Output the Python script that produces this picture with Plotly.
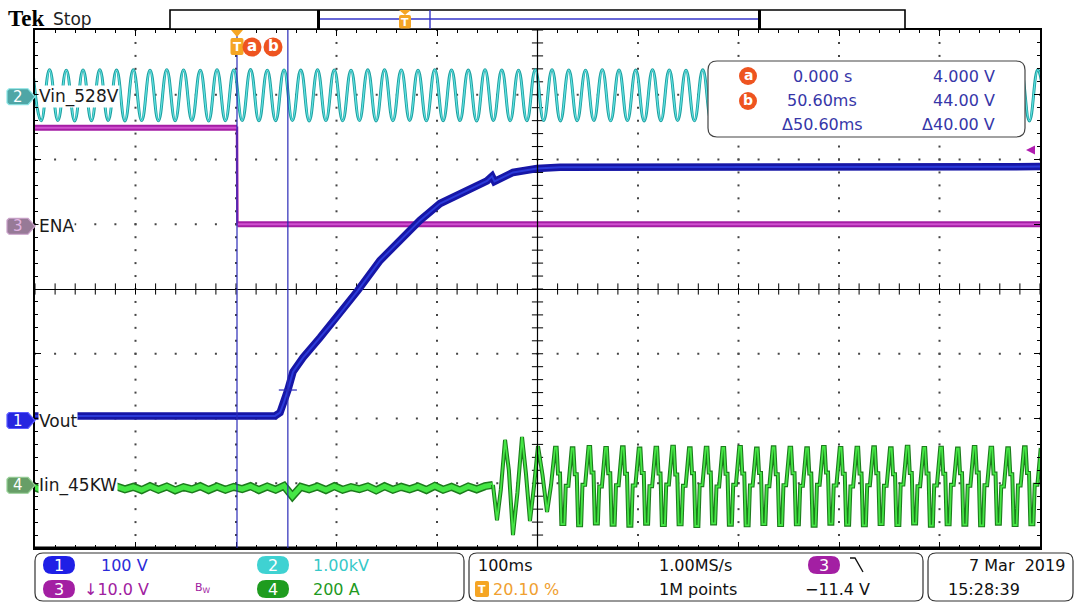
import numpy as np
import plotly.graph_objects as go

# ---------------- page / graticule geometry (pixels) ----------------
W, H = 1077, 603
PL, PR, PT, PB = 35, 1040, 30, 548
FONT = "DejaVu Sans"


def X(px):
    return (px - PL) / (PR - PL)


def Y(py):
    return (PB - py) / (PB - PT)


# ---------------- acquisition settings ----------------
T_LEFT, T_RIGHT = -201.0, 799.0          # ms, trigger at 20.1 % of record
CH_SCALE = {1: 100.0, 2: 1000.0, 3: 10.0, 4: 200.0}   # units per division
CH_POS = {1: -2.0, 2: 3.0, 3: 1.0, 4: -3.0}           # divisions
LINE_HALF_MS = 8.333                      # half cycle of the 60 Hz mains
LINE_PERIOD_MS = 16.667

# ---------------- Ch3: ENA (V) ----------------
ena_t = [-201.0, 0.0, 0.4, 799.0]
ena_v = [14.9, 14.9, 0.0, 0.0]

# ---------------- Ch1: Vout (V) ----------------
vout_t = [-201.0, 37.8, 42.8, 46.5, 50.6, 55.7, 65.7, 82.6, 99.5, 120.4, 142.3,
          162.2, 182.1, 202.0, 228.9, 248.8, 253.7, 256.2, 274.6, 298.5, 321.4, 799.0]
vout_v = [4.0, 4.0, 9.0, 24.0, 44.0, 72.0, 94.0, 125.0, 156.0, 198.0, 244.0,
          275.0, 306.0, 332.0, 352.0, 367.0, 374.0, 366.0, 380.0, 386.0, 388.0, 389.0]

# ---------------- Ch2: Vin (V), successive half-cycle extremes ----------------
vin_t0 = -203.2
vin_extremes_v = [
    382, -402, 386, -398, 379, -405, 384, -400, 388, -397, 381, -404, 385, -399, 378, -403,
    387, -401, 383, -396, 380, -406, 386, -400, 382, -398, 389, -403, 379, -401, 384, -397,
    381, -405, 387, -399, 383, -402, 380, -398, 385, -404, 388, -400, 382, -396, 379, -403,
    386, -401, 384, -399, 381, -405, 387, -397, 383, -402, 380, -400, 385, -398, 388, -404,
    382, -401, 379, -397, 386, -403, 384, -399, 381, -405, 387, -400, 383, -398, 380, -402,
    385, -396, 388, -404, 382, -401, 379, -399, 386, -403, 384, -397, 381, -405, 387, -400,
    383, -398, 380, -402, 385, -401, 388, -399, 382, -404, 379, -397, 386, -403, 384, -400,
    381, -398, 387, -402, 383, -399, 380, -404, 385, -401,
]

# ---------------- Ch4: Iin (A) ----------------
# ripple before the converter starts switching (half-cycle extremes)
iin_pre_t0 = -203.2
iin_pre_a = [-10, -20, -9, -21, -11, -19, -10, -20, -8, -22,
             -10, -19, -11, -21, -9, -20, -10, -22, -12, -19,
             -9, -21, -10, -20, -11, -18, -9, -21, -10, -20,
             -8, -40, -11, -19, -10, -21, -9, -20, -12, -18,
             -10, -22, -9, -20, -11, -19, -10, -21, -8, -20,
             -11, -22, -10, -19, -9]
# start-up transient
iin_tr_t = [254.7, 258.7, 262.5, 266.7, 270.5, 274.6, 279.0, 283.6, 287.5,
            291.5, 295.5, 299.5, 304.0, 308.5, 312.5]
iin_tr_a = [-5, -114, -20, 134, 40, -160, -30, 143, 30, -117, -10, 115, 25, -89, -5]
# steady state, one entry per mains cycle
iin_ss_t0 = 316.4
iin_peak_a = [110, 108, 112, 109, 111, 107, 110, 113, 108, 110, 109, 112, 107, 111, 110,
              108, 112, 109, 110, 111, 108, 113, 109, 110, 107, 112, 110, 108, 111, 109]
iin_shelf_fall_a = [30, 28, 33, 31, 29, 32, 30, 27, 31, 33, 29, 30, 32, 28, 31,
                    30, 33, 29, 30, 31, 28, 32, 30, 29, 31, 33, 30, 28, 32]
iin_trough_a = [-126, -130, -124, -128, -131, -125, -129, -127, -132, -124, -128, -130, -126, -129, -127,
                -131, -125, -128, -130, -126, -129, -124, -131, -127, -128, -130, -125, -129, -127]
iin_shelf_rise_a = [-8, -5, -10, -6, -7, -9, -4, -8, -6, -10, -5, -7, -9, -6, -8,
                    -5, -7, -10, -6, -8, -4, -9, -7, -5, -8, -6, -10, -7, -5]

# ---------------- cursors ----------------
cur_a_ms, cur_a_v = 0.0, 4.0
cur_b_ms, cur_b_v = 50.60, 44.0

# ---------------- status readouts ----------------
ch_scale_txt = {1: "100 V", 2: "1.00kV", 3: "\u219310.0 V", 4: "200 A"}
timebase_txt, trig_pos_txt = "100ms", "20.10 %"
rate_txt, points_txt = "1.00MS/s", "1M points"
trig_level_txt = "\u221211.4 V"
date_txt, time_txt = "7 Mar  2019", "15:28:39"


def to_div(ch, vals):
    return [v / CH_SCALE[ch] + CH_POS[ch] for v in vals]


# ---------------- assemble waveforms ----------------
vin_t = [vin_t0 + i * LINE_HALF_MS for i in range(len(vin_extremes_v))]

pre_t = [iin_pre_t0 + i * LINE_HALF_MS for i in range(len(iin_pre_a))]
ss_t, ss_a = [], []
# stepped current shape within one mains cycle: peak, falling shelf, trough, rising shelf
shape_steps = [(0.00, 0), (0.10, 0), (0.18, 1), (0.30, 1), (0.38, 2), (0.56, 2), (0.64, 3), (0.80, 3)]
for k in range(len(iin_trough_a)):
    tp = iin_ss_t0 + k * LINE_PERIOD_MS
    levels = (iin_peak_a[k], iin_shelf_fall_a[k], iin_trough_a[k], iin_shelf_rise_a[k])
    for ph, idx in shape_steps:
        ss_t.append(tp + ph * LINE_PERIOD_MS)
        ss_a.append(levels[idx])
ss_t.append(iin_ss_t0 + len(iin_trough_a) * LINE_PERIOD_MS)
ss_a.append(iin_peak_a[len(iin_trough_a)])

run_t = iin_tr_t + ss_t
run_a = iin_tr_a + ss_a

fig = go.Figure()


def line(x, y, color, width, shape="linear", smoothing=None):
    ln = dict(color=color, width=width, shape=shape)
    if smoothing is not None:
        ln["smoothing"] = smoothing
    fig.add_trace(go.Scatter(x=x, y=y, mode="lines", line=ln, hoverinfo="skip"))


# ---------------- graticule ----------------
T_MID = T_LEFT + 500
# dotted division lines
gx, gy = [], []
for k in range(1, 10):
    if k == 5:
        continue
    for yy in np.arange(-4.0, 4.01, 0.2):
        gx.append(T_LEFT + 100 * k)
        gy.append(yy)
for j in range(-3, 4):
    if j == 0:
        continue
    for xx in np.arange(T_LEFT, T_RIGHT + 0.1, 20.0):
        gx.append(xx)
        gy.append(j)
fig.add_trace(go.Scatter(x=gx, y=gy, mode="markers", hoverinfo="skip",
                         marker=dict(symbol="square", size=2, color="#444444", line=dict(width=0))))
# tick crosses on the centre lines
hx = np.arange(T_LEFT, T_RIGHT + 0.1, 20.0)
fig.add_trace(go.Scatter(x=hx, y=[0] * len(hx), mode="markers", hoverinfo="skip",
                         marker=dict(symbol="line-ns", size=8, line=dict(color="black", width=1))))
vy = np.arange(-4.0, 4.01, 0.2)
fig.add_trace(go.Scatter(x=[T_MID] * len(vy), y=vy, mode="markers", hoverinfo="skip",
                         marker=dict(symbol="line-ew", size=8, line=dict(color="black", width=1))))

# ENA (ch3)
line(ena_t, to_div(3, ena_v), "#a41ea4", 2.5)
ena_flat_x = [ena_t[0], ena_t[1], None, ena_t[2], ena_t[3]]
ena_flat_y = to_div(3, [ena_v[0], ena_v[1]]) + [None] + to_div(3, [ena_v[2], ena_v[3]])
line(ena_flat_x, ena_flat_y, "#a41ea4", 6)
line(ena_flat_x, ena_flat_y, "#d050d0", 2)

# Vin (ch2)
line(vin_t, to_div(2, vin_extremes_v), "#1f9e9e", 3.0, "spline", 1.3)
line(vin_t, to_div(2, vin_extremes_v), "#5ee3e3", 1.3, "spline", 1.3)

# Iin (ch4)
line(pre_t + [iin_tr_t[0]], to_div(4, iin_pre_a + [iin_tr_a[0]]), "#1c7c1c", 8)
line(pre_t + [iin_tr_t[0]], to_div(4, iin_pre_a + [iin_tr_a[0]]), "#45e645", 5)
line(run_t, to_div(4, run_a), "#1c7c1c", 4)
line(run_t, to_div(4, run_a), "#45e645", 1.8)

# Vout (ch1)
line(vout_t, to_div(1, vout_v), "#1616a6", 7.5)
line(vout_t, to_div(1, vout_v), "#2b3ad8", 2)

shapes = []
anns = []


def rrect(x0, y0, x1, y1, r):
    p = [
        f"M{X(x0 + r):.5f},{Y(y0):.5f}", f"L{X(x1 - r):.5f},{Y(y0):.5f}",
        f"Q{X(x1):.5f},{Y(y0):.5f} {X(x1):.5f},{Y(y0 + r):.5f}",
        f"L{X(x1):.5f},{Y(y1 - r):.5f}",
        f"Q{X(x1):.5f},{Y(y1):.5f} {X(x1 - r):.5f},{Y(y1):.5f}",
        f"L{X(x0 + r):.5f},{Y(y1):.5f}",
        f"Q{X(x0):.5f},{Y(y1):.5f} {X(x0):.5f},{Y(y1 - r):.5f}",
        f"L{X(x0):.5f},{Y(y0 + r):.5f}",
        f"Q{X(x0):.5f},{Y(y0):.5f} {X(x0 + r):.5f},{Y(y0):.5f}", "Z",
    ]
    return " ".join(p)


def poly(pts):
    return "M" + " L".join(f"{X(a):.5f},{Y(b):.5f}" for a, b in pts) + " Z"


def pshape(path, fill=None, color=None, width=1.0):
    shapes.append(dict(type="path", path=path, xref="paper", yref="paper",
                       fillcolor=fill if fill else "rgba(0,0,0,0)",
                       line=dict(color=color if color else "rgba(0,0,0,0)", width=width)))


def pline(x0, y0, x1, y1, color, width):
    shapes.append(dict(type="line", xref="paper", yref="paper", x0=X(x0), y0=Y(y0),
                       x1=X(x1), y1=Y(y1), line=dict(color=color, width=width)))


def circle(cx, cy, r, fill):
    shapes.append(dict(type="circle", xref="paper", yref="paper", x0=X(cx - r), x1=X(cx + r),
                       y0=Y(cy + r), y1=Y(cy - r), fillcolor=fill, line=dict(width=0)))


def txt(s, x, y, size=16, color="#111111", xanchor="left", family=FONT, **kw):
    anns.append(dict(text=s, x=X(x), y=Y(y), xref="paper", yref="paper", xanchor=xanchor,
                     yanchor="middle", showarrow=False,
                     font=dict(family=family, size=size, color=color), **kw))


# centre vertical line and heavier bottom edge
shapes.append(dict(type="line", xref="x", yref="paper", x0=T_MID, x1=T_MID,
                   y0=0, y1=1, line=dict(color="black", width=1.2)))
pline(PL, PB, PR, PB, "black", 3)

# cursors
for tc in (cur_a_ms, cur_b_ms):
    shapes.append(dict(type="line", xref="x", yref="paper", x0=tc, x1=tc, y0=0, y1=1,
                       line=dict(color="#2a2ab8", width=1.2)))
yb = to_div(1, [cur_b_v])[0]
shapes.append(dict(type="line", xref="x", yref="y", x0=cur_b_ms - 9, x1=cur_b_ms + 9,
                   y0=yb, y1=yb, line=dict(color="#2a2ab8", width=1.2)))

# trigger / cursor flags along the top of the graticule
ORANGE, RED_OR = "#f5a524", "#ee5420"
pshape(poly([(231, 30), (243, 30), (237, 37)]), fill=ORANGE)
pshape(rrect(230.5, 38, 243.5, 55, 2), fill=ORANGE)
txt("<b>T</b>", 237, 46.5, size=12, color="white", xanchor="center")
circle(252, 47, 9.5, RED_OR)
circle(273, 47, 9.5, RED_OR)
txt("<b>a</b>", 252, 46, size=15, color="white", xanchor="center")
txt("<b>b</b>", 273, 46, size=15, color="white", xanchor="center")

# trigger level arrow on the right edge
pshape(poly([(1026, 150), (1035, 145.5), (1035, 154.5)]), fill="#b01cb0")

# record view bar
pshape(f"M{X(170)},{Y(10)} L{X(905)},{Y(10)} L{X(905)},{Y(29)} L{X(170)},{Y(29)} Z",
       fill="white", color="black", width=1.6)
pline(320, 19, 758, 19, "#3434c8", 1.6)
pline(430, 10, 430, 29, "#3434c8", 1.4)
pline(318.5, 10, 318.5, 29, "black", 3)
pline(759.5, 10, 759.5, 29, "black", 3)
pshape(poly([(399, 10), (411, 10), (405, 15)]), fill=ORANGE)
pshape(rrect(399, 15, 411, 28.5, 2), fill=ORANGE)
txt("<b>T</b>", 405, 22, size=11, color="white", xanchor="center")

# Tek logo
txt("<b>Tek</b>", 6, 18, size=23, color="black", family="Liberation Serif")
txt("Stop", 51, 19, size=17, color="#222222")

# channel ground markers and names
marker_fill = {1: "#2626e0", 2: "#4fa6a6", 3: "#977a97", 4: "#679e67"}
marker_edge = {1: "#5a5aff", 2: "#8ae6e6", 3: "#c9a0c9", 4: "#95d095"}
marker_txt = {1: "white", 2: "white", 3: "#e2b4e2", 4: "white"}
names = {1: "Vout", 2: "Vin_528V", 3: "ENA", 4: "Iin_45KW"}
for ch in (1, 2, 3, 4):
    yc = (PT + PB) / 2 - CH_POS[ch] * (PB - PT) / 8.0 + 2
    pshape(poly([(9, yc - 8), (28, yc - 8), (35, yc), (28, yc + 8), (9, yc + 8), (7, yc + 6), (7, yc - 6)]),
           fill=marker_fill[ch], color=marker_edge[ch], width=1.2)
    txt(str(ch), 18, yc, size=15, color=marker_txt[ch], xanchor="center")
    txt(names[ch], 38, yc, size=17, color="#1a1a1a", bgcolor="white", borderpad=0)

# cursor readout box
pshape(rrect(708, 61, 1025, 137, 9), fill="white", color="#444444", width=1.2)
RB = "#3636a8"
circle(748, 76, 9, RED_OR)
circle(748, 101, 9, RED_OR)
txt("<b>a</b>", 748, 75, size=14, color="white", xanchor="center")
txt("<b>b</b>", 748, 100, size=14, color="white", xanchor="center")
txt(f"{cur_a_ms / 1000:.3f} s", 822, 76, color=RB, xanchor="center")
txt(f"{cur_b_ms:.2f}ms", 822, 101, color=RB, xanchor="center")
txt(f"\u0394{cur_b_ms - cur_a_ms:.2f}ms", 822, 125, color=RB, xanchor="center")
txt(f"{cur_a_v:.3f} V", 997, 76, color=RB, xanchor="right")
txt(f"{cur_b_v:.2f} V", 997, 101, color=RB, xanchor="right")
txt(f"\u0394{cur_b_v - cur_a_v:.2f} V", 997, 125, color=RB, xanchor="right")

# status bar
for bx in ((35, 464), (469, 923), (928, 1073)):
    pshape(rrect(bx[0], 553, bx[1], 601, 8), fill="white", color="#333333", width=1.2)

pill_fill = {1: "#1f1fe6", 2: "#3fd2d2", 3: "#a31fa3", 4: "#1f9c1f"}
val_col = {1: "#2a2ad8", 2: "#36c8c8", 3: "#a020a0", 4: "#1f9a1f"}
pill_pos = {1: (43, 565), 2: (257, 565), 3: (43, 589), 4: (257, 589)}
for ch, (px0, py) in pill_pos.items():
    pshape(rrect(px0, py - 9, px0 + 32, py + 9, 9), fill=pill_fill[ch])
    txt(str(ch), px0 + 16, py, size=16, color="white", xanchor="center")
txt(ch_scale_txt[1], 99, 565, color=val_col[1])
txt(ch_scale_txt[2], 311, 565, color=val_col[2])
txt(ch_scale_txt[3], 82, 589, color=val_col[3])
txt(ch_scale_txt[4], 311, 589, color=val_col[4])
txt("B<sub>W</sub>", 193, 588, size=11, color=val_col[3])

txt(timebase_txt, 476, 565)
pshape(rrect(475, 581, 489, 597, 2), fill=ORANGE)
txt("<b>T</b>", 482, 589, size=11, color="white", xanchor="center")
txt(trig_pos_txt, 491, 589, color="#f0a030")
txt(rate_txt, 657, 565)
txt(points_txt, 657, 589)
pshape(rrect(808, 556, 840, 574, 9), fill=pill_fill[3])
txt("3", 824, 565, size=16, color="white", xanchor="center")
shapes.append(dict(type="path", xref="paper", yref="paper",
                   path=f"M{X(850)},{Y(558)} L{X(855)},{Y(558)} L{X(863)},{Y(572)}",
                   line=dict(color="#111111", width=1.4)))
txt(trig_level_txt, 803, 589)
txt(date_txt, 1067, 565, xanchor="right")
txt(time_txt, 946, 589)

fig.update_layout(
    width=W, height=H, autosize=False,
    margin=dict(l=PL, r=W - PR, t=PT, b=H - PB, pad=0),
    paper_bgcolor="white", plot_bgcolor="white",
    showlegend=False, hovermode=False,
    shapes=shapes, annotations=anns,
    xaxis=dict(range=[T_LEFT, T_RIGHT], showticklabels=False, showgrid=False,
               tick0=T_LEFT, dtick=100, ticks="inside", ticklen=6, tickcolor="black",
               minor=dict(tick0=T_LEFT, dtick=20, ticks="inside", ticklen=3,
                          tickcolor="black", showgrid=False),
               showline=True, linecolor="black", linewidth=2, mirror="ticks",
               zeroline=False, fixedrange=True),
    yaxis=dict(range=[-4, 4], showticklabels=False, showgrid=False,
               tick0=-4, dtick=1, ticks="inside", ticklen=6, tickcolor="black",
               minor=dict(tick0=-4, dtick=0.2, ticks="inside", ticklen=3,
                          tickcolor="black", showgrid=False),
               showline=True, linecolor="black", linewidth=2, mirror="ticks",
               zeroline=True, zerolinecolor="black", zerolinewidth=1.2, fixedrange=True),
)

fig.write_html("out.html", config={"displayModeBar": False})
